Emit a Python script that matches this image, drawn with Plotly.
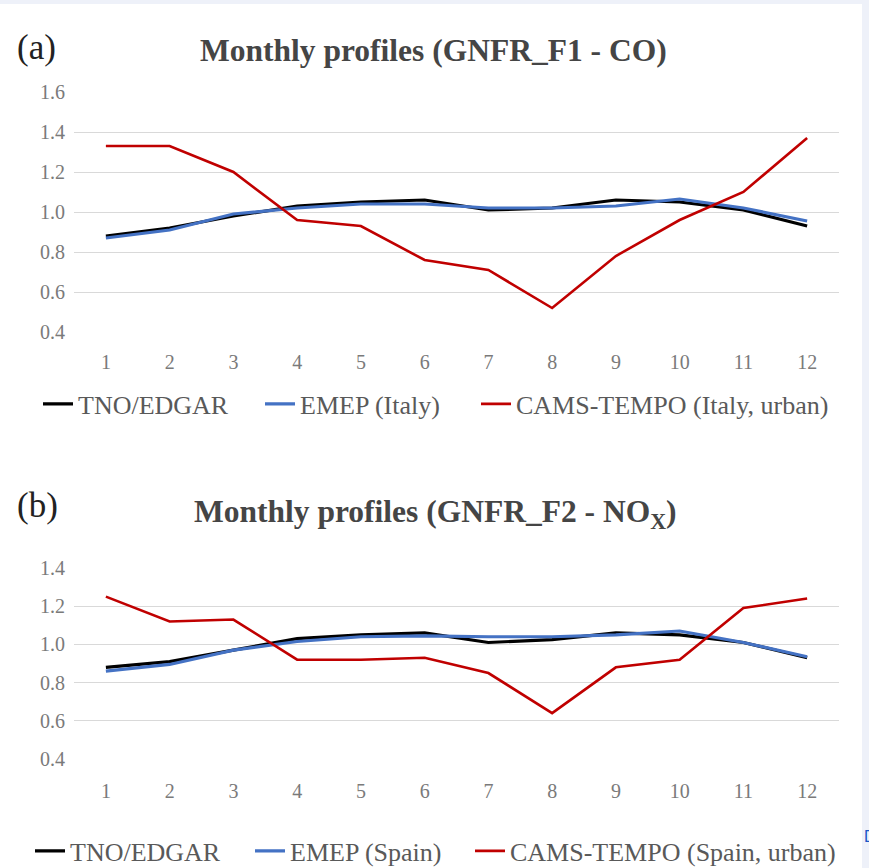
import plotly.graph_objects as go

months = list(range(1, 13))
month_labels = [str(m) for m in months]

# Panel (a) GNFR_F1 - CO
a_tno = [0.88, 0.92, 0.98, 1.03, 1.05, 1.06, 1.01, 1.02, 1.06, 1.05, 1.01, 0.93]
a_emep = [0.87, 0.91, 0.99, 1.02, 1.04, 1.04, 1.02, 1.02, 1.03, 1.065, 1.02, 0.955]
a_cams = [1.33, 1.33, 1.20, 0.96, 0.93, 0.76, 0.71, 0.52, 0.78, 0.96, 1.10, 1.37]

# Panel (b) GNFR_F2 - NOx
b_tno = [0.88, 0.91, 0.97, 1.03, 1.05, 1.06, 1.01, 1.025, 1.06, 1.05, 1.01, 0.93]
b_emep = [0.86, 0.895, 0.97, 1.015, 1.04, 1.045, 1.04, 1.04, 1.05, 1.07, 1.01, 0.935]
b_cams = [1.25, 1.12, 1.13, 0.92, 0.92, 0.93, 0.85, 0.64, 0.88, 0.92, 1.19, 1.24]

a_names = ["TNO/EDGAR", "EMEP (Italy)", "CAMS-TEMPO (Italy, urban)"]
b_names = ["TNO/EDGAR", "EMEP (Spain)", "CAMS-TEMPO (Spain, urban)"]
a_yticks = [0.4, 0.6, 0.8, 1.0, 1.2, 1.4, 1.6]
b_yticks = [0.4, 0.6, 0.8, 1.0, 1.2, 1.4]

W, H = 869, 868
def px(x):
    return x / W
def py(y):
    return (H - y) / H

colors = ["#000000", "#4472C4", "#C00000"]
widths = [3.2, 3.2, 2.6]
SERIF = "Liberation Serif, Times New Roman, serif"

# legend text start x (px) for each entry, and legend centre y (px)
a_leg_x = [80, 302, 518]
b_leg_x = [72, 292, 512]
a_leg_y = 404
b_leg_y = 851

fig = go.Figure()
legends = {}
k = 1
for vals, name, c, w, lx in zip([a_tno, a_emep, a_cams], a_names, colors, widths, a_leg_x):
    lname = "legend" if k == 1 else f"legend{k}"
    fig.add_trace(go.Scatter(x=months, y=vals, name=name, mode="lines",
                             line=dict(color=c, width=w), xaxis="x", yaxis="y",
                             legend=lname))
    legends[lname] = (lx, a_leg_y)
    k += 1
for vals, name, c, w, lx in zip([b_tno, b_emep, b_cams], b_names, colors, widths, b_leg_x):
    lname = f"legend{k}"
    fig.add_trace(go.Scatter(x=months, y=vals, name=name, mode="lines",
                             line=dict(color=c, width=w), xaxis="x2", yaxis="y2",
                             legend=lname))
    legends[lname] = (lx, b_leg_y)
    k += 1

tickfont = dict(family=SERIF, size=20, color="#7a7a7a")
xcommon = dict(range=[0.5, 12.5], tickvals=months, ticktext=month_labels,
               showgrid=False, zeroline=False, showline=False, ticks="",
               tickfont=tickfont, fixedrange=True)
ycommon = dict(showgrid=True, gridcolor="#d9d9d9", gridwidth=1, zeroline=False,
               showline=False, ticks="", tickfont=tickfont, tickformat=".1f",
               ticklabelstandoff=8, fixedrange=True)

fig.update_layout(
    width=W, height=H,
    margin=dict(l=0, r=0, t=0, b=0, autoexpand=False),
    paper_bgcolor="white", plot_bgcolor="white",
    font=dict(family=SERIF),
    xaxis=dict(domain=[px(74), px(839)], anchor="y", ticklabelstandoff=15, **xcommon),
    yaxis=dict(domain=[py(333), py(91)], range=[0.395, 1.605], tickvals=a_yticks,
               anchor="x", **ycommon),
    xaxis2=dict(domain=[px(74), px(839)], anchor="y2", ticklabelstandoff=17, **xcommon),
    yaxis2=dict(domain=[py(760), py(567)], range=[0.395, 1.405], tickvals=b_yticks,
                anchor="x2", **ycommon),
    showlegend=True,
)
for lname, (lx, ly) in legends.items():
    fig.update_layout({lname: dict(orientation="h", x=px(lx - 42), y=py(ly),
                                   xanchor="left", yanchor="middle",
                                   font=dict(family=SERIF, size=26, color="#595959"),
                                   bgcolor="rgba(0,0,0,0)")})

annotations = [
    dict(text="(a)", x=px(15), y=py(47), xanchor="left", yanchor="middle",
         font=dict(family=SERIF, size=35, color="#222222")),
    dict(text="<b>Monthly profiles (GNFR_F1 - CO)</b>", x=px(433), y=py(50),
         xanchor="center", yanchor="middle",
         font=dict(family=SERIF, size=31.5, color="#454545")),
    dict(text="(b)", x=px(15), y=py(505), xanchor="left", yanchor="middle",
         font=dict(family=SERIF, size=35, color="#222222")),
    dict(text="<b>Monthly profiles (GNFR_F2 - NO<sub>X</sub>)</b>", x=px(435), y=py(514),
         xanchor="center", yanchor="middle",
         font=dict(family=SERIF, size=31.5, color="#454545")),
    dict(text="D", x=px(862), y=py(836), xanchor="left", yanchor="middle",
         font=dict(family="Liberation Sans, sans-serif", size=16, color="#1a57c7")),
]
for a in annotations:
    a.update(xref="paper", yref="paper", showarrow=False)
fig.update_layout(annotations=annotations)

fig.update_layout(shapes=[
    dict(type="rect", xref="paper", yref="paper", x0=0, x1=1, y0=py(4), y1=1,
         fillcolor="#eef1f9", line=dict(width=0), layer="below"),
    dict(type="rect", xref="paper", yref="paper", x0=px(862), x1=1, y0=0, y1=1,
         fillcolor="#eef1f9", line=dict(width=0), layer="below"),
])

fig.write_html("out.html")
